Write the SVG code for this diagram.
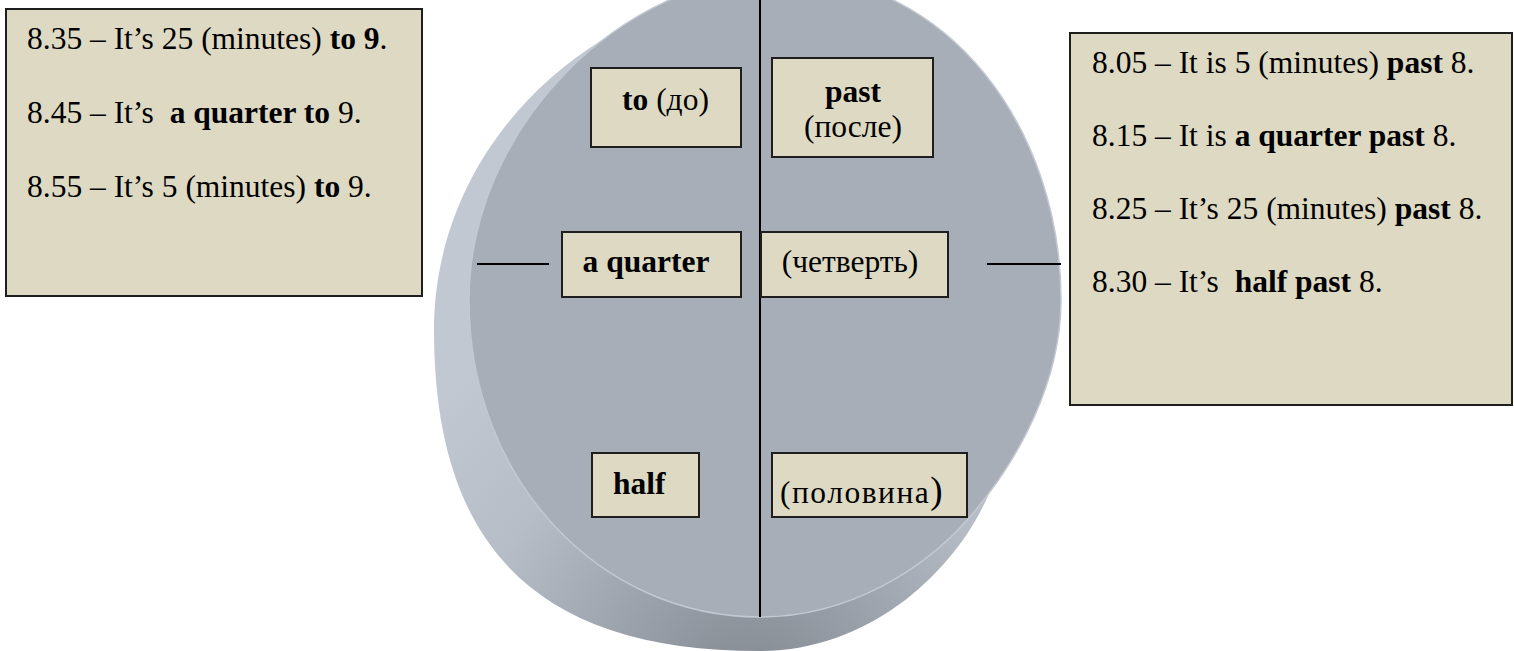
<svg xmlns="http://www.w3.org/2000/svg" width="1514" height="651" viewBox="0 0 1514 651">
<style>
.box{fill:#ddd9c3;stroke:#1e1e1e;stroke-width:2}
.t{font-family:"Liberation Serif","Times New Roman","DejaVu Serif",serif;font-size:31.5px;fill:#000}
.b{font-weight:bold}
.ln{stroke:#000;stroke-width:2;fill:none}
</style>
<defs>
<radialGradient id="side" gradientUnits="userSpaceOnUse" cx="750" cy="690" r="430">
<stop offset="0" stop-color="#838991"/>
<stop offset="0.3" stop-color="#9aa0a9"/>
<stop offset="0.65" stop-color="#b6bdc7"/>
<stop offset="1" stop-color="#c2c8d2"/>
</radialGradient>
</defs>
<rect width="1514" height="651" fill="#fff"/>
<g id="disc">
<path d="M 990,491 C 960,565 875,651 760,651 C 540,651 434,550 434,330 C 434,220 490,110 602,40 L 765,300 Z" fill="url(#side)"/>
<path d="M 760,617 C 600,617 469,480 469,300 C 469,130 620,-25 783,-25 C 950,-25 1061,130 1061,300 C 1061,380 1020,460 968,519 C 925,568 850,617 760,617 Z" fill="#a8aeb8" stroke="#c3c9d2" stroke-width="1.5"/>
</g>
<g id="connectors">
<line class="ln" x1="760" y1="0" x2="760" y2="617"/>
<line class="ln" x1="477" y1="264" x2="549" y2="264"/>
<line class="ln" x1="987" y1="264" x2="1061" y2="264"/>
</g>
<g id="left-box">
<rect class="box" x="6" y="9" width="416" height="287"/>
<text class="t" x="27" y="49" xml:space="preserve">8.35 – It’s 25 (minutes) <tspan class="b">to 9</tspan>.</text>
<text class="t" x="27" y="123" xml:space="preserve">8.45 – It’s  <tspan class="b">a quarter to</tspan> 9.</text>
<text class="t" x="27" y="197" xml:space="preserve">8.55 – It’s 5 (minutes) <tspan class="b">to</tspan> 9.</text>
</g>
<g id="right-box">
<rect class="box" x="1070" y="33" width="442" height="372"/>
<text class="t" x="1092" y="73" xml:space="preserve">8.05 – It is 5 (minutes) <tspan class="b">past</tspan> 8.</text>
<text class="t" x="1092" y="146" xml:space="preserve">8.15 – It is <tspan class="b">a quarter past</tspan> 8.</text>
<text class="t" x="1092" y="219" xml:space="preserve">8.25 – It’s 25 (minutes) <tspan class="b">past</tspan> 8.</text>
<text class="t" x="1092" y="292" xml:space="preserve">8.30 – It’s  <tspan class="b">half past</tspan> 8.</text>
</g>
<g id="to">
<rect class="box" x="591" y="68" width="150" height="79"/>
<text class="t" x="622" y="110"><tspan class="b">to</tspan> (до)</text>
</g>
<g id="past">
<rect class="box" x="772" y="58" width="161" height="99"/>
<text class="t b" x="853" y="102" text-anchor="middle">past</text>
<text class="t" x="853" y="137" text-anchor="middle">(после)</text>
</g>
<g id="quarter">
<rect class="box" x="562" y="232" width="179" height="65"/>
<text class="t b" x="646" y="272" text-anchor="middle">a quarter</text>
</g>
<g id="chetvert">
<rect class="box" x="761" y="232" width="187" height="65"/>
<text class="t" x="850" y="272" text-anchor="middle">(четверть)</text>
</g>
<g id="half">
<rect class="box" x="592" y="453" width="107" height="64"/>
<text class="t b" x="613" y="494">half</text>
</g>
<g id="polovina">
<rect class="box" x="772" y="453" width="195" height="64"/>
<text class="t" x="780" y="503"><tspan style="letter-spacing:1.5px">(половина</tspan><tspan style="font-size:37px">)</tspan></text>
</g>
</svg>
